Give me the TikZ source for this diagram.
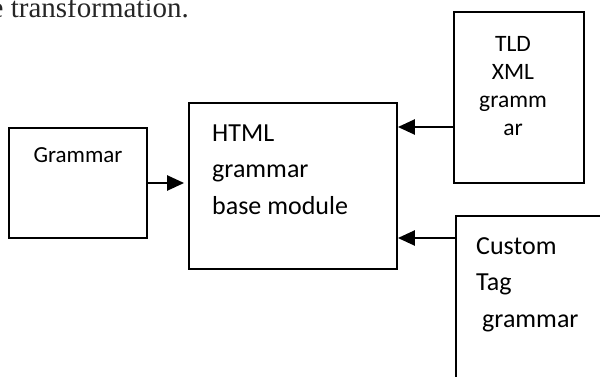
\documentclass[tikz,border=0pt]{standalone}
\usepackage{fontspec}
\setmainfont{Carlito}
\newfontfamily\capserif{Liberation Serif}
\usetikzlibrary{arrows.meta}

\begin{document}
\begin{tikzpicture}[x=1pt, y=-1pt,
  box/.style={draw, line width=1.8pt, inner sep=0pt},
  boxtext/.style={inner sep=0pt, align=left, font=\fontsize{26}{36.5}\selectfont},
  arr/.style={line width=2.4pt, -{Triangle[length=17pt,width=15pt]}}]
\clip (0,0) rectangle (600,376);
\node[anchor=base east, inner sep=0pt,
      font=\capserif\fontsize{29}{34}\selectfont, text=black!85] 
      (caption) at (189,17) {e transformation.};
\node[box, minimum width=138pt, minimum height=110pt] (grammar) at (78,183) {};
\node[boxtext, anchor=base, font=\fontsize{23}{28}\selectfont] (grammarlabel) at (78,162) {Grammar};
\node[box, minimum width=208pt, minimum height=166pt] (html) at (293,186) {};
\node[boxtext, anchor=base west] (htmllabel) at (212,214) {HTML\\grammar\\base module};
\node[box, minimum width=130pt, minimum height=171pt] (tld) at (519,97.5) {};
\node[boxtext, anchor=base, align=center, font=\fontsize{23.5}{28}\selectfont] 
      (tldlabel) at (513,135) {TLD\\XML\\gramm\\ar};
\node[box, anchor=north west, minimum width=200pt, minimum height=200pt] (custom) at (455,215) {};
\node[boxtext, anchor=base west] (customlabel) at (476,327) {Custom\\Tag\\\hspace*{6pt}grammar};
\draw[arr, shorten >=4pt] (grammar.east) -- (grammar.east -| html.west);
\draw[arr] ([yshift=-29.5pt]tld.west) -- ([yshift=-29.5pt]tld.west -| html.east);
\draw[arr] ([yshift=-23pt]custom.north west) -- ([yshift=-23pt]custom.north west -| html.east);
\end{tikzpicture}
\end{document}
